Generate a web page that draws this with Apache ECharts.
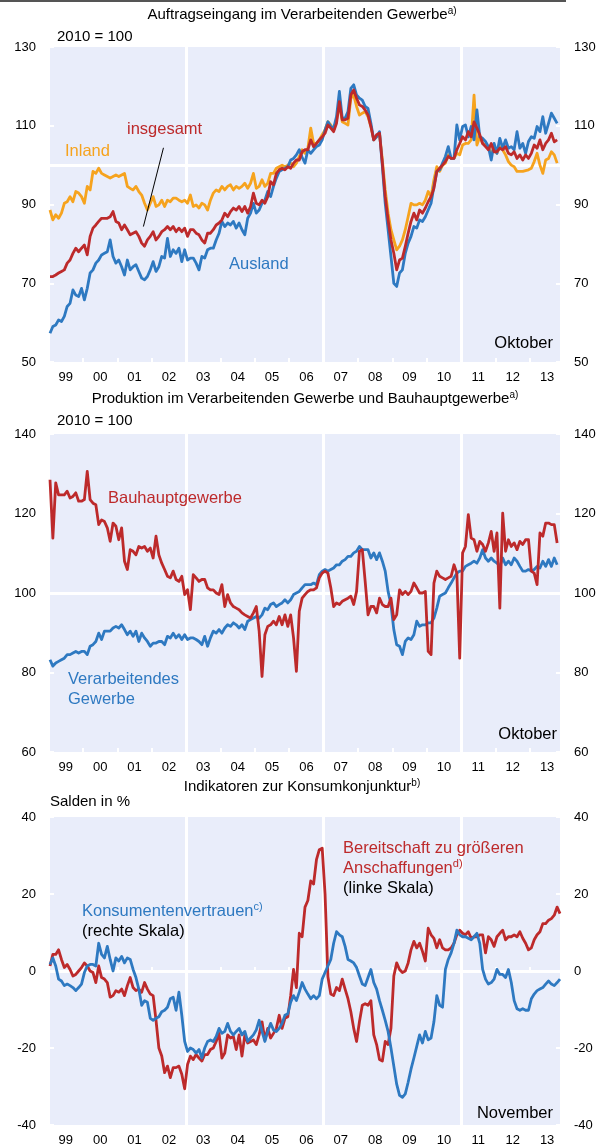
<!DOCTYPE html>
<html><head><meta charset="utf-8">
<script src="https://cdn.jsdelivr.net/npm/echarts@6/dist/echarts.min.js"></script>
<style>html,body{margin:0;padding:0;background:#fff}#c{width:605px;height:1147px}</style>
</head><body><div id="c"></div>
<script>
// Monthly values, index 0 = January 1999
const yearLabels = ['99','00','01','02','03','04','05','06','07','08','09','10','11','12','13'];

const inland = [
88.6,86.1,87.4,86.5,87.8,90.3,90.7,92,90.7,93.3,92.9,92,
90.3,94.6,93.7,98.4,97.9,99.2,97.9,97.5,97.1,96.7,97.1,97.5,
97.1,97.5,97.9,94.6,94.1,93.7,94.6,93.3,92.4,90.3,88.6,90.3,
92,89.5,89.9,91.1,89.5,91.1,90.7,91.6,91.6,91.1,90.7,91.1,
90.3,92.4,89.5,89.9,89.1,90.3,89.9,88.6,91.1,92.9,93.7,93.3,
94.6,93.7,94.6,95,93.7,94.6,94.1,94.6,95.4,94.1,95.4,97.9,
94.1,94.6,96.3,94.6,95.4,97.9,97.9,99.2,99.6,100,99.6,100,
100.5,99.6,100.5,102.2,103.9,103,104.3,109.4,105.5,105.5,106.4,107.7,
108.9,111,110.2,108.9,111.5,115.7,111,110.6,110.2,117,117.8,114.9,
112.7,113.2,113.6,112.3,109.8,106.4,107.2,108.1,101.3,93.7,87.8,83.6,
81,78.5,79.4,81,83.6,86.9,90.3,89.9,89.9,90.3,89.9,91.1,
93.3,92,96.3,99.6,98.4,100,100.5,102.6,101.7,101.7,103,102.6,
105.1,105.5,105.5,106.4,117.8,105.1,107.2,105.5,105.1,104.7,103,103.9,
103,104.7,103.9,102.6,100.9,100,99.6,98.4,98.4,98.4,98.6,98.8,
99.2,100.9,103,100,97.9,101.3,101.7,103.4,102.6,100.5];

const insgesamt = [
71.7,71.7,72.1,72.6,73,73.4,75.1,75.9,77.6,78.9,78,78.9,
79.7,77.2,81.9,84,84.8,85.7,86.5,86.5,86.5,86.9,88.2,85.7,
85.3,83.6,84.8,83.6,82.3,82.7,83.1,81.9,80.2,79.4,81,81.9,
83.1,81,81.9,83.1,83.6,84.4,83.6,84.4,83.1,84,83.1,84,
81.9,83.6,83.6,82.7,82.3,81,80.2,82.7,82.7,83.6,84.8,85.3,
86.1,87.8,86.9,88.2,89.1,88.6,89.5,88.2,89.5,87.8,89.5,92.9,
90.3,89.9,91.1,90.3,92,95.8,95,97.9,98.8,99.2,98.8,99.6,
99.2,100.5,101.3,101.3,103.4,103.9,103.9,106.4,104.7,105.5,106.4,107.2,
108.1,110.2,109.4,108.5,110.6,116.1,111.5,111.5,111.9,117.8,119.1,117,
115.3,114.9,114,112.7,109.8,106.4,107.7,108.1,100.5,92,86.1,81,
77.6,73.4,75.9,76.4,79.4,82.7,85.7,87.8,86.1,88.6,87.8,89.1,
90.7,92,94.1,98.4,99.2,100,100.9,102.2,101.7,101.7,103.9,105.5,
107.2,106.4,108.5,107.2,111,109.4,107.7,105.5,104.7,103.9,105.5,103.4,
103.4,104.3,103.9,104.7,103,102.6,103.4,101.7,102.6,101.3,102.6,101.7,
103,105.1,104.3,106.4,103.9,105.5,106.4,108.1,105.9,106.4];

const ausland = [
57.3,59,59.4,60.7,60.3,61.6,64.1,64.9,68.3,67,66.6,68.7,
65.8,68.7,72.6,73.4,75.1,75.9,77.2,77.6,78,81,76.8,75.1,
75.9,74.2,72.1,75.9,73.4,74.2,74.7,73,71.3,70.9,71.7,73.4,
75.5,73,74.2,76.8,76.4,81.4,76.8,78.5,77.6,78.9,75.5,78.5,
75.9,76.4,76.4,75.1,73.4,76.8,76.4,78.5,78.9,78.9,81,82.7,
85.7,84.4,85.3,84.8,85.7,84,85.3,83.6,82.3,86.5,87.8,90.3,
87.8,88.6,90.3,91.1,93.3,92,94.6,96.7,98.4,98.8,99.2,99.6,
101.3,101.7,102.6,103.9,102,100.5,103.9,103,103.9,104.7,105.1,106.4,
108.9,111,109.8,109.4,112.3,118.7,111.9,111.9,113.6,119.5,120.4,117.8,
117,116.5,114.9,114.4,110.6,106.4,107.2,108.5,99.6,90.3,83.6,76.8,
70,69.2,72.6,73.4,77.6,80.2,81.9,84.4,84,86.1,85.7,86.9,
88.6,90.3,94.6,98.4,98.8,100.5,102.2,104.7,101.7,101.7,110.2,106.4,
109.8,110.2,107.2,109.8,106.4,114,107.2,106.8,106,104.7,101.3,105.5,
103,106.8,104.3,106.4,104.3,104.7,103.9,108.5,104.3,105.5,103,106,
107.2,106.8,109.8,108.5,112.3,108.1,110.6,113.2,111.9,110.6];

const bau = [
128.5,113.8,127.7,124.7,124.7,124.7,125.6,123.9,124.3,125.2,123.1,123.1,
123.5,130.6,123.5,122.6,122.2,117.2,118.4,118,116.4,113,117.6,116.8,
113.4,116.4,108,105.9,110.9,110.5,109.6,111.7,111.3,111.7,110.5,111.3,
108.8,114.3,109.6,107.5,105.9,104.2,103.8,105.5,103.4,102.9,104.2,99.6,
100.8,95.8,104.6,103.8,102.9,103.4,103.4,101.3,100.8,100.8,100,99.6,
102.1,96.6,99.6,97.5,96.6,96.2,95.8,95,94.5,94.1,93.7,95,
96.6,90.4,79,89.5,91.6,92,92.9,92,94.1,92,94.5,91.6,
94.5,88.7,80.3,95.4,98.7,99.6,100.4,100.8,100.8,101.3,103.8,105,
105.5,105,101.3,96.6,97.5,97.1,97.9,98.3,98.7,99.2,97.1,100.4,
110.5,110.9,102.9,94.5,96.6,96.6,95,98.7,97.1,96.6,96.6,98.7,
93.3,94.5,100.8,99.6,100.4,99.6,100.4,102.5,101.3,100,100,100.4,
85.3,84.5,102.5,105.5,104.2,103.8,103.4,103.8,104.2,107.1,105,83.6,
110.1,111.7,119.7,113.8,113.4,110.5,113,112.2,110.5,112.6,115.5,110.5,
115.1,96.2,120.1,110.5,113.4,111.7,112.6,110.9,113,112.2,113.4,113.4,
105.5,105,102.1,115.1,114.3,117.6,117.6,117.2,117.2,112.6];

const verarbeitend = [
83.2,81.6,82.4,82.8,83.2,83.6,84.5,84.5,84.9,85.3,84.9,85.3,
85.3,84.5,86.6,87,87.8,89.9,88.3,90.4,90.4,90.4,91.2,91.6,
91.2,92,90.8,89.5,90.4,89.1,90.4,87.8,89.9,88.7,87.8,86.6,
87.4,87.4,87.8,87.8,87,89.1,88.7,89.9,88.7,89.5,88.3,89.5,
88.3,88.7,88.7,88.3,87.8,87,89.1,86.6,88.7,90.4,89.9,90.8,
89.9,91.2,92,91.6,92.5,92,91.2,92,90.8,92.9,93.3,93.7,
94.1,93.7,94.5,96.2,95.8,97.1,97.5,96.6,97.1,97.5,98.3,97.5,
98.3,99.6,100,100.4,101.3,102.1,102.1,102.1,102.5,102.1,104.6,105.5,
105.9,105.5,105.9,106.3,107.1,107.1,108,108.4,109.2,109.2,110.1,110.5,
111.7,110.9,110.9,110.9,108.8,110.1,108.4,110.1,108,105.5,100.4,97.1,
90.8,87,86.6,84.5,87.8,88.7,88.3,89.5,92.9,91.6,92,92,
92.5,92.5,93.7,96.2,99.2,99.6,100,101.3,102.5,103.8,105,105.5,
105.5,106.7,107.1,107.5,108,107.5,108.8,110.9,108.8,108,108.8,108,
107.5,106.7,108.8,107.1,108,107.1,108.8,108,106.7,105.5,105.5,105.9,
105.5,105.9,106.7,106.3,108,106.7,108.4,106.7,108.8,107.1];

const konsumentenvertrauen = [
1.7,3.4,1.3,-2.1,-2.6,-3.8,-3.4,-3.8,-4.3,-5.1,-4.3,-3.4,
-0.4,1.3,1.7,1.7,1.3,7.2,4.3,3.4,6.4,3,0,3.4,
2.6,3.8,2.1,3.4,3,0.4,-1.7,-4.7,-8.9,-7.7,-8.1,-12.3,
-12.8,-12.3,-11.9,-10.6,-10.2,-9.4,-7.2,-6.8,-10.2,-5.5,-11.5,-18.3,
-20.9,-20,-20.4,-21.3,-20.4,-22.6,-20,-18.3,-17.9,-18.3,-17,-14.9,
-16.2,-15.7,-13.6,-15.7,-16.6,-15.7,-14.9,-16.6,-15.7,-18.3,-17.4,-16.6,
-15.3,-12.8,-15.7,-18.3,-15.7,-13.6,-15.3,-15.7,-14.9,-13.6,-11.5,-11.1,
-8.1,-6.4,-7.7,-5.5,-3,-4.7,-6,-7.2,-6.4,-7.2,-6.4,-2.1,
-0.4,1.3,3,7.2,10.2,9.4,8.9,6.4,3,2.6,2.1,0.9,
-1.3,-3.4,-3.8,-1.7,0.4,-3,-4.7,-7.7,-10.2,-12.8,-15.7,-20,
-24.7,-29.4,-32.3,-32.8,-31.9,-28.9,-25.5,-22.6,-19.6,-16.6,-18.7,-15.7,
-17.9,-17.4,-13.2,-6.4,-8.9,-9.4,0.4,3,4.7,7.2,10.6,9.4,
8.9,8.9,8.5,8.1,8.9,9.8,7.2,0.4,-2.1,-3.4,-3,-2.1,
0.4,-0.9,-0.9,-1.7,0.4,-3,-7.7,-9.8,-10.2,-9.8,-10.2,-10.2,
-7.2,-6,-5.1,-4.7,-4.3,-3.4,-2.6,-3.4,-3.8,-3,-2.1];

const anschaffungen = [
1.3,4.3,4.3,5.5,3,0.9,1.7,0.4,-1.3,-0.9,0,0.9,
2.1,1.3,0,-0.4,-3,1.3,-1.7,-2.1,-3,-6.8,-6.4,-5.1,
-5.5,-4.7,-6.4,-3.8,-1.7,-4.3,-5.1,-4.7,-5.5,-3,-4.7,-6,
-6.4,-12.8,-20,-22.1,-26.4,-24.7,-27.7,-25.1,-25.1,-24.7,-26.8,-30.6,
-24.3,-22.1,-23,-21.7,-22.6,-23.4,-21.7,-21.7,-20.4,-20,-18.3,-16.2,
-22.6,-21.3,-16.6,-17.4,-17,-20.4,-16.6,-22.1,-16.6,-18.7,-18.3,-17.9,
-19.1,-16.6,-13.2,-17.9,-14.9,-17.4,-16.2,-14.9,-11.5,-14.9,-12.3,-11.9,
-6.4,0.4,-4.3,9.8,8.9,16.6,18.3,23.4,22.6,28.9,31.5,31.9,
20,-1.5,-6,-6.4,-4.3,-5.1,-2.1,-4.7,-7.2,-10.6,-14.9,-18.3,
-13.2,-8.9,-8.5,-8.9,-7.7,-16.6,-19.1,-23,-23.4,-18.3,-19.1,-14.9,
-1.3,2.1,0.4,-0.4,0,2.1,5.5,7.7,6,7.2,5.1,2.6,
11.1,9.4,8.5,6,8.1,6,5.5,5.5,6,7.2,9.4,10.6,
9.8,9.4,10.2,8.5,8.9,8.9,9.4,9.4,4.7,8.9,8.1,6.4,
8.9,9.8,10.6,8.1,8.9,8.9,9.4,8.9,10.2,8.5,7.2,5.5,
6,8.1,9.4,10.2,12.3,12.3,13.2,13.6,14.5,16.6,14.9];

const FF = '"Liberation Sans", Arial, sans-serif';
const C_OR = '#F6A31E', C_RED = '#BD2A2B', C_BLUE = '#2E79C1';
const BG = '#E9EDFA';

const pairs = arr => arr.map((v, i) => [i, v]);
const labelPos = yearLabels.map((_, i) => 5.5 + 12 * i);
const tickPos = yearLabels.slice(1).map((_, i) => 11.5 + 12 * i);

function xAx(gi) {
  return {
    type: 'value', gridIndex: gi, min: 0, max: 178,
    axisLine: { show: false }, splitLine: { show: false },
    axisTick: { show: true, inside: true, length: 4, customValues: tickPos, lineStyle: { color: '#fff', width: 2 } },
    axisLabel: { show: true, customValues: labelPos, margin: 9, color: '#000', fontSize: 13, fontFamily: FF,
      formatter: v => yearLabels[Math.round((v - 5.5) / 12)] }
  };
}
function yAx(gi, min, max, pos) {
  return {
    type: 'value', gridIndex: gi, position: pos, min: min, max: max, interval: 20,
    axisLine: { show: false }, splitLine: { show: false },
    axisTick: { show: true, inside: true, length: 4, lineStyle: { color: '#fff', width: 2 } },
    axisLabel: { margin: 14, color: '#000', fontSize: 13, fontFamily: FF }
  };
}
function lineS(name, data, color, xi, yi, z) {
  return { name: name, type: 'line', xAxisIndex: xi, yAxisIndex: yi, data: pairs(data), showSymbol: false,
    lineStyle: { color: color, width: 2.8, join: 'round' }, itemStyle: { color: color }, z: z, silent: true, animation: false };
}
function refLines(xi, yi, yv) {
  return { type: 'line', xAxisIndex: xi, yAxisIndex: yi, data: [], z: 1, silent: true, animation: false,
    markLine: { z: 1, silent: true, symbol: 'none', animation: false, label: { show: false },
      lineStyle: { color: '#fff', width: 3, type: 'solid' },
      data: [{ xAxis: 47.5 }, { xAxis: 95.5 }, { xAxis: 143.5 }, { yAxis: yv }] } };
}
function txt(text, x, y, color, size, align) {
  return { type: 'text', z: 100, style: { text: text, x: x, y: y, fill: color, font: size + 'px ' + FF,
    textAlign: align || 'left', textVerticalAlign: 'middle' } };
}
function rtxt(main, sup, x, y, color, size, align) {
  return { type: 'text', z: 100, style: { text: '{m|' + main + '}{s|' + sup + '}', x: x, y: y,
    textAlign: align || 'left', textVerticalAlign: 'middle',
    rich: { m: { fill: color, fontSize: size, fontFamily: FF, lineHeight: size + 3 },
            s: { fill: color, fontSize: Math.round(size * 0.66), fontFamily: FF, verticalAlign: 'top', lineHeight: 10 } } } };
}

const chart = echarts.init(document.getElementById('c'), null, { renderer: 'canvas' });
chart.setOption({
  animation: false,
  backgroundColor: '#fff',
  grid: [
    { left: 50, width: 510, top: 47, height: 315, show: true, backgroundColor: BG, borderWidth: 0 },
    { left: 50, width: 510, top: 434, height: 318, show: true, backgroundColor: BG, borderWidth: 0 },
    { left: 50, width: 510, top: 817, height: 311, show: true, backgroundColor: BG, borderWidth: 0 }
  ],
  xAxis: [xAx(0), xAx(1), xAx(2)],
  yAxis: [yAx(0, 50, 130, 'left'), yAx(0, 50, 130, 'right'),
          yAx(1, 60, 140, 'left'), yAx(1, 60, 140, 'right'),
          yAx(2, -40, 40, 'left'), yAx(2, -40, 40, 'right')],
  series: [
    refLines(0, 0, 100), refLines(1, 2, 100), refLines(2, 4, 0),
    lineS('Inland', inland, C_OR, 0, 0, 3),
    lineS('Ausland', ausland, C_BLUE, 0, 0, 4),
    lineS('insgesamt', insgesamt, C_RED, 0, 0, 5),
    lineS('Verarbeitendes Gewerbe', verarbeitend, C_BLUE, 1, 2, 3),
    lineS('Bauhauptgewerbe', bau, C_RED, 1, 2, 4),
    lineS('Bereitschaft zu größeren Anschaffungen', anschaffungen, C_RED, 2, 4, 3),
    lineS('Konsumentenvertrauen', konsumentenvertrauen, C_BLUE, 2, 5, 4),
    { type: 'line', xAxisIndex: 0, yAxisIndex: 0, data: [], z: 10, silent: true, animation: false,
      markLine: { z: 10, silent: true, animation: false, symbol: ['none', 'arrow'], symbolSize: [0, 9], label: { show: false },
        lineStyle: { color: '#000', width: 1, type: 'solid' },
        data: [[{ coord: [39.6, 104.4] }, { coord: [32.6, 84.4] }]] } }
  ],
  graphic: [
    { type: 'rect', shape: { x: 0, y: 0, width: 566, height: 2 }, style: { fill: '#555' } },
    rtxt('Auftragseingang im Verarbeitenden Gewerbe', 'a)', 302, 15, '#000', 15, 'center'),
    txt('2010 = 100', 57, 37, '#000', 15),
    txt('Inland', 65, 151, C_OR, 16.5),
    txt('insgesamt', 127, 129, C_RED, 16.5),
    txt('Ausland', 229, 264, C_BLUE, 16.5),
    txt('Oktober', 553, 343, '#000', 16.5, 'right'),

    rtxt('Produktion im Verarbeitenden Gewerbe und Bauhauptgewerbe', 'a)', 305, 399, '#000', 15, 'center'),
    txt('2010 = 100', 57, 421, '#000', 15),
    txt('Bauhauptgewerbe', 108, 498, C_RED, 16.5),
    txt('Verarbeitendes', 68, 679, C_BLUE, 16.5),
    txt('Gewerbe', 68, 699, C_BLUE, 16.5),
    txt('Oktober', 557, 734, '#000', 16.5, 'right'),

    rtxt('Indikatoren zur Konsumkonjunktur', 'b)', 302, 787, '#000', 15, 'center'),
    txt('Salden in %', 50, 802, '#000', 15),
    txt('Bereitschaft zu größeren', 343, 848, C_RED, 16.5),
    rtxt('Anschaffungen', 'd)', 343, 868, C_RED, 16.5),
    txt('(linke Skala)', 343, 888, '#000', 16.5),
    rtxt('Konsumentenvertrauen', 'c)', 82, 911, C_BLUE, 16.5),
    txt('(rechte Skala)', 82, 931, '#000', 16.5),
    txt('November', 553, 1113, '#000', 16.5, 'right')
  ]
});
</script>
</body></html>
